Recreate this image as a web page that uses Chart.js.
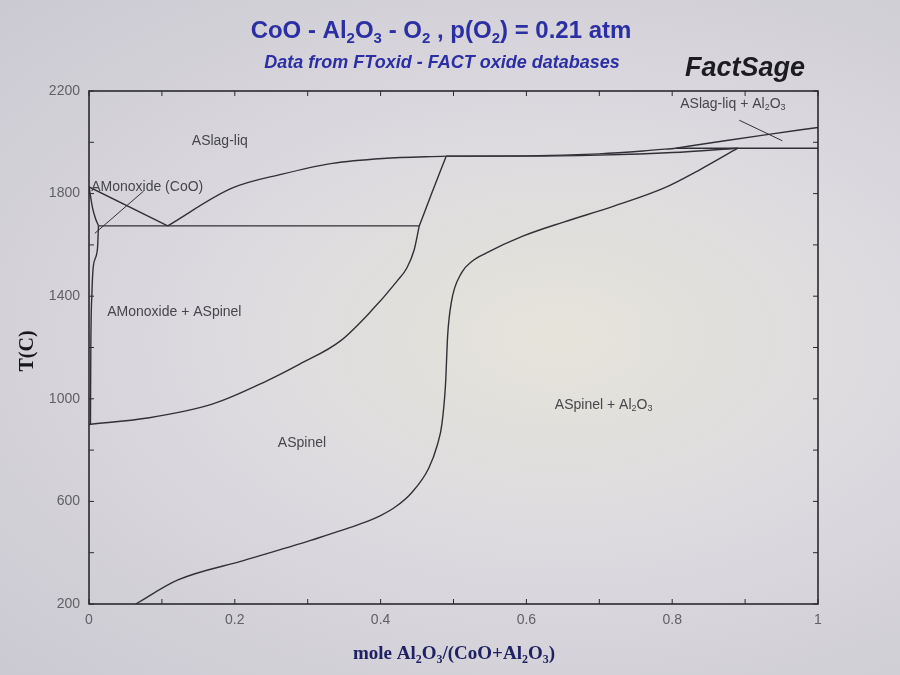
<!DOCTYPE html>
<html>
<head>
<meta charset="utf-8">
<script src="https://cdn.jsdelivr.net/npm/chart.js@4.4.1/dist/chart.umd.min.js"></script>
<style>
  html, body { margin: 0; padding: 0; }
  body {
    width: 900px; height: 675px; overflow: hidden;
    background: radial-gradient(ellipse at 62% 50%, #e6e4da 0%, #dcdadf 45%, #cbc9d1 100%);
  }
  #wrap { position: relative; width: 900px; height: 675px; }
</style>
</head>
<body>
<div id="wrap"><canvas id="phase" width="900" height="675"></canvas></div>
<script>
// phase boundaries, x = mole Al2O3/(CoO+Al2O3), T in C
const coLiquidusX = [0, 0.108];
const coLiquidusT = [1826, 1674];

const monoxideSolidusX = [0, 0.005, 0.009, 0.013];
const monoxideSolidusT = [1826, 1742, 1702, 1675];

const monoxideSolvusX = [0.002, 0.0025, 0.004, 0.006, 0.0116, 0.013];
const monoxideSolvusT = [900, 1202, 1411, 1518, 1585, 1675];

const eutecticX = [0.013, 0.453];
const eutecticT = [1674, 1674];

const spinelLiquidusX = [0.108, 0.196, 0.265, 0.334, 0.403, 0.49];
const spinelLiquidusT = [1674, 1821, 1876, 1918, 1937, 1946];

const leftSpinelLowX = [0, 0.08, 0.17, 0.244, 0.289, 0.345, 0.387, 0.422, 0.436, 0.446, 0.453];
const leftSpinelLowT = [900, 925, 980, 1070, 1135, 1226, 1342, 1457, 1510, 1580, 1674];

const leftSpinelHighX = [0.453, 0.47, 0.49];
const leftSpinelHighT = [1674, 1800, 1946];

const topLiquidusX = [0.49, 0.6, 0.7, 0.76, 0.805];
const topLiquidusT = [1946, 1947, 1955, 1966, 1977];

const topSolidusX = [0.49, 0.6, 0.7, 0.8, 0.89];
const topSolidusT = [1946, 1946, 1950, 1960, 1977];

const peritecticX = [0.805, 1.0];
const peritecticT = [1977, 1977];

const aluminaLiquidusX = [0.805, 0.87, 0.93, 1.0];
const aluminaLiquidusT = [1977, 2005, 2030, 2058];

const rightSpinelX = [0.064, 0.122, 0.214, 0.304, 0.373, 0.40, 0.42, 0.442, 0.466, 0.478, 0.484, 0.489, 0.492, 0.497, 0.511, 0.525, 0.544, 0.595, 0.651, 0.72, 0.79, 0.836, 0.89];
const rightSpinelT = [200, 294, 371, 448, 513, 545, 578, 632, 729, 822, 899, 1054, 1248, 1376, 1491, 1535, 1567, 1634, 1689, 1751, 1823, 1890, 1977];

// leader lines of the labels
const monoxidePointerX = [0.075, 0.008];
const monoxidePointerT = [1810, 1645];
const slagPointerX = [0.892, 0.951];
const slagPointerT = [2086, 2006];

const xTickLabels = ["0", "0.2", "0.4", "0.6", "0.8", "1"];
const yTickLabels = ["200", "600", "1000", "1400", "1800", "2200"];

// region labels (parts: [text, isSubscript]), anchored left / middle
const regionLabels = [
  { parts: [["ASlag-liq", 0]], x: 0.141, t: 2005 },
  { parts: [["AMonoxide (CoO)", 0]], x: 0.003, t: 1826 },
  { parts: [["AMonoxide + ASpinel", 0]], x: 0.025, t: 1336 },
  { parts: [["ASpinel", 0]], x: 0.259, t: 826 },
  { parts: [["ASpinel + Al", 0], ["2", 1], ["O", 0], ["3", 1]], x: 0.639, t: 974 },
  { parts: [["ASlag-liq + Al", 0], ["2", 1], ["O", 0], ["3", 1]], x: 0.811, t: 2149 }
];

function pts(xs, ts) {
  return xs.map((x, i) => ({ x: x, y: ts[i] }));
}

function curve(xs, ts, smooth, width) {
  return {
    data: pts(xs, ts),
    showLine: true,
    borderColor: "#303036",
    borderWidth: width || 1.4,
    pointRadius: 0,
    cubicInterpolationMode: smooth ? "monotone" : "default",
    tension: 0,
    fill: false
  };
}

const datasets = [
  curve(coLiquidusX, coLiquidusT, false),
  curve(monoxideSolidusX, monoxideSolidusT, true),
  curve(monoxideSolvusX, monoxideSolvusT, true),
  curve(eutecticX, eutecticT, false),
  curve(spinelLiquidusX, spinelLiquidusT, true),
  curve(leftSpinelLowX, leftSpinelLowT, true),
  curve(leftSpinelHighX, leftSpinelHighT, true),
  curve(topLiquidusX, topLiquidusT, true),
  curve(topSolidusX, topSolidusT, true),
  curve(peritecticX, peritecticT, false),
  curve(aluminaLiquidusX, aluminaLiquidusT, true),
  curve(rightSpinelX, rightSpinelT, true),
  curve(monoxidePointerX, monoxidePointerT, false, 1),
  curve(slagPointerX, slagPointerT, false, 1)
];

// draws text with small lowered subscripts
function drawRich(ctx, parts, x, y, size, style, family, align) {
  const subSize = Math.round(size * 0.62);
  let total = 0;
  parts.forEach(p => {
    ctx.font = style + " " + (p[1] ? subSize : size) + "px " + family;
    total += ctx.measureText(p[0]).width;
  });
  let cx = align === "center" ? x - total / 2 : x;
  ctx.textAlign = "left";
  parts.forEach(p => {
    ctx.font = style + " " + (p[1] ? subSize : size) + "px " + family;
    ctx.fillText(p[0], cx, p[1] ? y + size * 0.22 : y);
    cx += ctx.measureText(p[0]).width;
  });
}

const SANS = "Arial, 'Liberation Sans', sans-serif";
const SERIF = "'Liberation Serif', 'DejaVu Serif', serif";

const framePlugin = {
  id: "frame",
  afterDatasetsDraw(chart) {
    const ctx = chart.ctx;
    const a = chart.chartArea;
    const xs = chart.scales.x;
    const ys = chart.scales.y;
    ctx.save();
    ctx.strokeStyle = "#2a2a30";
    ctx.lineWidth = 1.6;
    ctx.strokeRect(a.left, a.top, a.right - a.left, a.bottom - a.top);

    ctx.lineWidth = 1;
    ctx.beginPath();
    xs.ticks.forEach(t => {
      const px = xs.getPixelForValue(t.value);
      ctx.moveTo(px, a.bottom); ctx.lineTo(px, a.bottom - 5);
      ctx.moveTo(px, a.top); ctx.lineTo(px, a.top + 5);
    });
    ys.ticks.forEach(t => {
      const py = ys.getPixelForValue(t.value);
      ctx.moveTo(a.left, py); ctx.lineTo(a.left + 5, py);
      ctx.moveTo(a.right, py); ctx.lineTo(a.right - 5, py);
    });
    ctx.stroke();

    ctx.fillStyle = "#46464c";
    ctx.textBaseline = "middle";
    regionLabels.forEach(l => {
      drawRich(ctx, l.parts, xs.getPixelForValue(l.x), ys.getPixelForValue(l.t), 14, "normal", SANS, "left");
    });
    ctx.restore();
  },
  afterDraw(chart) {
    const ctx = chart.ctx;
    ctx.save();
    ctx.textBaseline = "alphabetic";
    ctx.fillStyle = "#2b2fa3";
    drawRich(ctx, [["CoO - Al", 0], ["2", 1], ["O", 0], ["3", 1], [" - O", 0], ["2", 1], [" , p(O", 0], ["2", 1], [") = 0.21 atm", 0]],
      441, 38, 24, "bold", SANS, "center");
    drawRich(ctx, [["Data from FToxid - FACT oxide databases", 0]], 442, 68, 18, "italic bold", SANS, "center");

    ctx.fillStyle = "#1c1c20";
    drawRich(ctx, [["FactSage", 0]], 745, 76, 27, "italic bold", SANS, "center");

    ctx.fillStyle = "#1f2163";
    drawRich(ctx, [["mole Al", 0], ["2", 1], ["O", 0], ["3", 1], ["/(CoO+Al", 0], ["2", 1], ["O", 0], ["3", 1], [")", 0]],
      454, 659, 19, "bold", SERIF, "center");

    ctx.fillStyle = "#18181c";
    ctx.translate(33, 351);
    ctx.rotate(-Math.PI / 2);
    drawRich(ctx, [["T(C)", 0]], 0, 0, 20, "bold", SERIF, "center");
    ctx.restore();
  }
};

new Chart(document.getElementById("phase"), {
  type: "scatter",
  data: { datasets: datasets },
  options: {
    responsive: false,
    animation: false,
    layout: { padding: { top: 91, right: 82, left: 0, bottom: 0 } },
    plugins: { legend: { display: false }, tooltip: { enabled: false } },
    scales: {
      x: {
        type: "linear", min: 0, max: 1,
        afterFit: s => { s.height = 71; },
        grid: { display: false, drawTicks: false },
        border: { display: false },
        ticks: {
          stepSize: 0.1, padding: 8, color: "#606066",
          font: { size: 14, family: SANS },
          callback: v => {
            const k = Math.round(v * 10);
            return k % 2 === 0 ? xTickLabels[k / 2] : "";
          }
        }
      },
      y: {
        type: "linear", min: 200, max: 2200,
        afterFit: s => { s.width = 89; },
        grid: { display: false, drawTicks: false },
        border: { display: false },
        ticks: {
          stepSize: 200, padding: 9, color: "#606066",
          font: { size: 14, family: SANS },
          callback: v => {
            const k = Math.round((v - 200) / 200);
            return k % 2 === 0 ? yTickLabels[k / 2] : "";
          }
        }
      }
    }
  },
  plugins: [framePlugin]
});
</script>
</body>
</html>
